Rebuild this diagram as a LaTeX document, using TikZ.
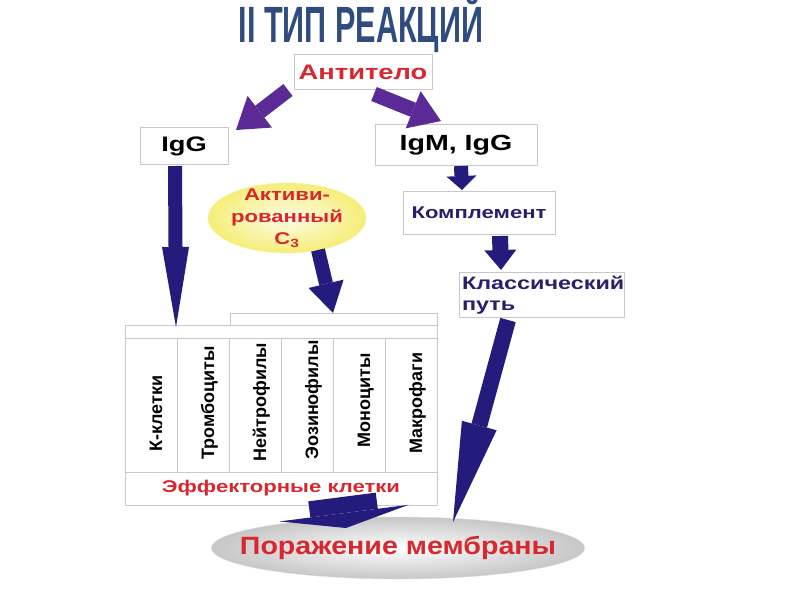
\documentclass[tikz,border=0pt]{standalone}
\usepackage{fontspec}
\setmainfont{Liberation Sans}[FakeStretch=1.3]
\newfontfamily\titlefont{Liberation Sans}[FakeStretch=0.6]
\newfontfamily\cellfont{Liberation Sans}
\usetikzlibrary{arrows.meta,shapes.geometric}
\definecolor{titleblue}{HTML}{2E4C7E}
\definecolor{redtext}{HTML}{D6282E}
\definecolor{navytext}{HTML}{2A1F6B}
\definecolor{purplearrow}{HTML}{5B2A96}
\definecolor{navyarrow}{HTML}{231C7C}
\definecolor{boxgray}{HTML}{C8C8C8}
\definecolor{c3yellow}{HTML}{F2E84A}
\newcommand{\fsz}[1]{\fontsize{#1}{#1}\selectfont}
\begin{document}
\begin{tikzpicture}[x=1pt,y=-1pt,font=\bfseries,line join=round,
  box/.style={draw=boxgray,fill=white,line width=0.8pt,inner sep=0pt},
  cell/.style={box,minimum width=52pt,minimum height=134pt},
  celltext/.style={rotate=90,anchor=base west,font=\cellfont\bfseries\fsz{18}},
  fat/.style n args={3}{line width=#1,-{Triangle[width=#2,length=#3,line width=0pt]}}]
\useasboundingbox (0,0) rectangle (800,600);
\node[titleblue,font=\titlefont\bfseries\fsz{51}] (title) at (361,24) {II ТИП РЕАКЦИЙ};
\node[box,minimum width=138pt,minimum height=35pt,text=redtext,font=\bfseries\fsz{21}] (ab) at (363,72) {Антитело};
\node[box,minimum width=88pt,minimum height=37pt,font=\bfseries\fsz{21}] (igg) at (184,146) {IgG};
\node[box,minimum width=162pt,minimum height=41pt,font=\bfseries\fsz{22}] (igm) at (456,145) {IgM, IgG};
\node[box,minimum width=152pt,minimum height=43pt,text=navytext,font=\bfseries\fsz{17}] (compl) at (479,213) {Комплемент};
\node[box,minimum width=165pt,minimum height=45pt,text=navytext,font=\bfseries\fontsize{18}{21}\selectfont,align=left,text width=160pt] (path) at (542,295) {Классический\\путь};
\node[ellipse,minimum width=155pt,minimum height=70pt,inner xsep=0pt,inner ysep=-6pt,inner color=c3yellow!12,outer color=c3yellow!75,draw=c3yellow!50!white,text=redtext,font=\bfseries\fontsize{17}{22}\selectfont,align=center] (c3) at (287,218) {Активи-\\рованный\\С\textsubscript{3}};
\node[box,minimum width=312pt,minimum height=13pt] (bar1) at (281,331.5) {};
\node[box,minimum width=207pt,minimum height=12pt] (bar2) at (333.5,319) {};
\node[cell] (k1) at (151,405) {};
\node[cell] (k2) at (203,405) {};
\node[cell] (k3) at (255,405) {};
\node[cell] (k4) at (307,405) {};
\node[cell] (k5) at (359,405) {};
\node[cell] (k6) at (411,405) {};
\node[celltext] at (162,455) {К-клетки};
\node[celltext] at (214,463) {Тромбоциты};
\node[celltext] at (266,465) {Нейтрофилы};
\node[celltext] at (318,463) {Эозинофилы};
\node[celltext] at (370,451) {Моноциты};
\node[celltext] at (422,457) {Макрофаги};
\node[box,minimum width=312pt,minimum height=33pt,text=redtext,font=\bfseries\fsz{17}] (eff) at (281,488.5) {Эффекторные клетки};
\node[ellipse,minimum width=370pt,minimum height=62pt,inner xsep=-26pt,inner ysep=8pt,inner color=white,outer color=black!22,draw=black!12,text=redtext,font=\bfseries\fsz{25}] (lesion) at (398,548) {\scalebox{0.88}[1]{Поражение мембраны}};
\coordinate (t1) at (288,90);
\coordinate (h1) at (236,130);
\coordinate (t2) at (374,94);
\coordinate (h2) at (441,121);
\coordinate (t3) at (175,166);
\coordinate (h3) at (176,327);
\coordinate (t4) at (461,166);
\coordinate (h4) at (462,190);
\coordinate (t5) at (500,236);
\coordinate (h5) at (501,270);
\coordinate (t6) at (318,250);
\coordinate (h6) at (333,313);
\coordinate (t7) at (508,320);
\coordinate (h7) at (453,522);
\coordinate (t8) at (342,497);
\coordinate (h8) at (346,528);
\draw[purplearrow,fat={15pt}{40pt}{30pt}] (t1) -- (h1);
\draw[purplearrow,fat={15pt}{40pt}{30pt}] (t2) -- (h2);
\draw[navyarrow,fat={14pt}{27pt}{80pt}] (t3) -- (h3);
\draw[navyarrow,fat={14pt}{30pt}{14pt}] (t4) -- (h4);
\draw[navyarrow,fat={16pt}{32pt}{20pt}] (t5) -- (h5);
\draw[navyarrow,fat={14pt}{36pt}{30pt}] (t6) -- (h6);
\draw[navyarrow,fat={16pt}{36pt}{100pt}] (t7) -- (h7);
\draw[navyarrow,fat={68pt}{130pt}{15pt}] (t8) -- (h8);
\end{tikzpicture}
\end{document}
